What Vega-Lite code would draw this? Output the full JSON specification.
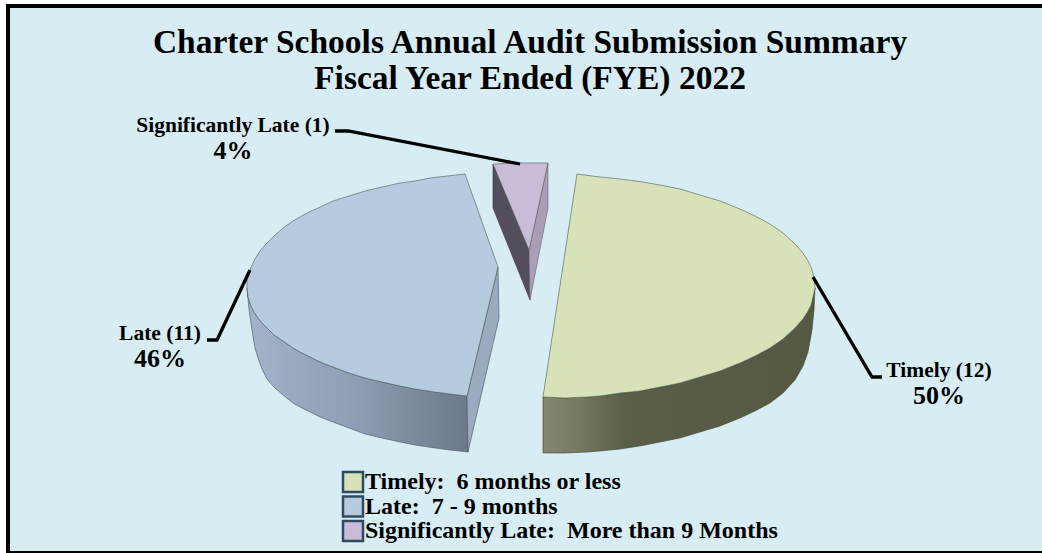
{
  "$schema": "https://vega.github.io/schema/vega-lite/v6.json",
  "width": 1042,
  "height": 553,
  "padding": 0,
  "autosize": "none",
  "background": "#ffffff",
  "config": {"view": {"stroke": null}},
  "title": {
    "text": ["Charter Schools Annual Audit Submission Summary", "Fiscal Year Ended (FYE) 2022"],
    "font": "Liberation Serif",
    "fontSize": 33.5,
    "fontWeight": "bold",
    "color": "#000000",
    "lineHeight": 36,
    "anchor": "start",
    "frame": "group",
    "align": "center",
    "dx": 530,
    "baseline": "alphabetic",
    "offset": -122
  },
  "datasets": {
    "frame": [{"x": 8, "y": 6, "x2": 1046, "y2": 553}],
    "summary": [
      {"part": "Timely", "count": 12, "percent": "50%", "caption": "Timely (12)", "x": 939, "y": 377, "yp": 404},
      {"part": "Late", "count": 11, "percent": "46%", "caption": "Late (11)", "x": 160, "y": 340, "yp": 367},
      {"part": "Significantly Late", "count": 1, "percent": "4%", "caption": "Significantly Late (1)", "x": 233, "y": 132, "yp": 159}
    ],
    "leaders": [
      {"part": "Timely", "i": 1, "x": 813, "y": 277}, {"part": "Timely", "i": 2, "x": 872, "y": 377}, {"part": "Timely", "i": 3, "x": 882, "y": 377},
      {"part": "Late", "i": 1, "x": 207, "y": 340}, {"part": "Late", "i": 2, "x": 217, "y": 340}, {"part": "Late", "i": 3, "x": 250, "y": 270},
      {"part": "Significantly Late", "i": 1, "x": 335, "y": 131}, {"part": "Significantly Late", "i": 2, "x": 348, "y": 131}, {"part": "Significantly Late", "i": 3, "x": 520, "y": 164}
    ],
    "wall_timely": [
      {"i":1,"x":543,"y":397},{"i":2,"x":565,"y":398},{"i":3,"x":587,"y":397},{"i":4,"x":600,"y":396},{"i":5,"x":620,"y":393},{"i":6,"x":640,"y":391},{"i":7,"x":660,"y":387},{"i":8,"x":680,"y":383},{"i":9,"x":700,"y":377},{"i":10,"x":720,"y":371},{"i":11,"x":740,"y":363},{"i":12,"x":755,"y":356},{"i":13,"x":770,"y":348},{"i":14,"x":783,"y":339},{"i":15,"x":795,"y":328},{"i":16,"x":803,"y":319},{"i":17,"x":808,"y":311},{"i":18,"x":811,"y":305},{"i":19,"x":813,"y":297},{"i":20,"x":815,"y":288},
      {"i":21,"x":814,"y":310},{"i":22,"x":812,"y":330},{"i":23,"x":808,"y":352},{"i":24,"x":803,"y":366},{"i":25,"x":795,"y":380},{"i":26,"x":783,"y":393},{"i":27,"x":770,"y":403},{"i":28,"x":755,"y":411},{"i":29,"x":740,"y":418},{"i":30,"x":720,"y":426},{"i":31,"x":700,"y":432},{"i":32,"x":680,"y":438},{"i":33,"x":660,"y":442},{"i":34,"x":640,"y":446},{"i":35,"x":620,"y":449},{"i":36,"x":600,"y":451},{"i":37,"x":587,"y":452},{"i":38,"x":565,"y":453},{"i":39,"x":543,"y":453},{"i":40,"x":543,"y":397}
    ],
    "wall_late": [
      {"i":1,"x":247,"y":288},{"i":2,"x":248,"y":297},{"i":3,"x":251,"y":306},{"i":4,"x":254,"y":312},{"i":5,"x":258,"y":318},{"i":6,"x":262,"y":323},{"i":7,"x":267,"y":328},{"i":8,"x":274,"y":335},{"i":9,"x":283,"y":341},{"i":10,"x":293,"y":348},{"i":11,"x":300,"y":352},{"i":12,"x":318,"y":361},{"i":13,"x":325,"y":364},{"i":14,"x":349,"y":373},{"i":15,"x":365,"y":378},{"i":16,"x":382,"y":382},{"i":17,"x":400,"y":386},{"i":18,"x":415,"y":389},{"i":19,"x":435,"y":392},{"i":20,"x":450,"y":394},{"i":21,"x":467,"y":396},
      {"i":22,"x":468,"y":452},{"i":23,"x":450,"y":450},{"i":24,"x":435,"y":448},{"i":25,"x":415,"y":445},{"i":26,"x":400,"y":442},{"i":27,"x":382,"y":438},{"i":28,"x":365,"y":434},{"i":29,"x":349,"y":428},{"i":30,"x":325,"y":419},{"i":31,"x":318,"y":416},{"i":32,"x":300,"y":407},{"i":33,"x":293,"y":403},{"i":34,"x":283,"y":395},{"i":35,"x":274,"y":387},{"i":36,"x":267,"y":379},{"i":37,"x":262,"y":369},{"i":38,"x":258,"y":358},{"i":39,"x":255,"y":348},{"i":40,"x":252,"y":330},{"i":41,"x":249,"y":310},{"i":42,"x":247,"y":288}
    ],
    "cut_late": [
      {"i": 1, "x": 467, "y": 396}, {"i": 2, "x": 498, "y": 267}, {"i": 3, "x": 499, "y": 318}, {"i": 4, "x": 468, "y": 452}, {"i": 5, "x": 467, "y": 396}
    ],
    "cut_sig_left": [
      {"i": 1, "x": 493, "y": 164}, {"i": 2, "x": 529, "y": 250}, {"i": 3, "x": 530, "y": 300}, {"i": 4, "x": 493, "y": 208}, {"i": 5, "x": 493, "y": 164}
    ],
    "cut_sig_right": [
      {"i": 1, "x": 548, "y": 163}, {"i": 2, "x": 548, "y": 208}, {"i": 3, "x": 530, "y": 300}, {"i": 4, "x": 529, "y": 250}, {"i": 5, "x": 548, "y": 163}
    ],
    "face_rows": [
      {"part":"Timely","i":1,"x":543,"y":397},{"part":"Timely","i":2,"x":577,"y":174},{"part":"Timely","i":3,"x":600,"y":177},{"part":"Timely","i":4,"x":620,"y":179},{"part":"Timely","i":5,"x":640,"y":181.5},{"part":"Timely","i":6,"x":660,"y":185},{"part":"Timely","i":7,"x":680,"y":189},{"part":"Timely","i":8,"x":700,"y":195},{"part":"Timely","i":9,"x":720,"y":201},{"part":"Timely","i":10,"x":740,"y":209},{"part":"Timely","i":11,"x":755,"y":216},{"part":"Timely","i":12,"x":770,"y":224},{"part":"Timely","i":13,"x":783,"y":233},{"part":"Timely","i":14,"x":795,"y":244},{"part":"Timely","i":15,"x":803,"y":253},{"part":"Timely","i":16,"x":808,"y":261},{"part":"Timely","i":17,"x":811,"y":267},{"part":"Timely","i":18,"x":814,"y":277},{"part":"Timely","i":19,"x":815,"y":288},
      {"part":"Timely","i":20,"x":813,"y":297},{"part":"Timely","i":21,"x":811,"y":305},{"part":"Timely","i":22,"x":808,"y":311},{"part":"Timely","i":23,"x":803,"y":319},{"part":"Timely","i":24,"x":795,"y":328},{"part":"Timely","i":25,"x":783,"y":339},{"part":"Timely","i":26,"x":770,"y":348},{"part":"Timely","i":27,"x":755,"y":356},{"part":"Timely","i":28,"x":740,"y":363},{"part":"Timely","i":29,"x":720,"y":371},{"part":"Timely","i":30,"x":700,"y":377},{"part":"Timely","i":31,"x":680,"y":383},{"part":"Timely","i":32,"x":660,"y":387},{"part":"Timely","i":33,"x":640,"y":391},{"part":"Timely","i":34,"x":620,"y":393},{"part":"Timely","i":35,"x":600,"y":396},{"part":"Timely","i":36,"x":587,"y":397},{"part":"Timely","i":37,"x":565,"y":398},{"part":"Timely","i":38,"x":543,"y":397},

      {"part":"Late","i":1,"x":465,"y":174},{"part":"Late","i":2,"x":447,"y":176},{"part":"Late","i":3,"x":430,"y":178},{"part":"Late","i":4,"x":415,"y":181},{"part":"Late","i":5,"x":400,"y":183},{"part":"Late","i":6,"x":382,"y":187},{"part":"Late","i":7,"x":365,"y":191},{"part":"Late","i":8,"x":349,"y":196},{"part":"Late","i":9,"x":333,"y":201},{"part":"Late","i":10,"x":318,"y":208},{"part":"Late","i":11,"x":305,"y":214},{"part":"Late","i":12,"x":293,"y":221},{"part":"Late","i":13,"x":283,"y":228},{"part":"Late","i":14,"x":274,"y":236},{"part":"Late","i":15,"x":265,"y":245},{"part":"Late","i":16,"x":260,"y":251},{"part":"Late","i":17,"x":255,"y":259},{"part":"Late","i":18,"x":252,"y":265},{"part":"Late","i":19,"x":249,"y":272},{"part":"Late","i":20,"x":247,"y":280},{"part":"Late","i":21,"x":247,"y":288},
      {"part":"Late","i":22,"x":248,"y":297},{"part":"Late","i":23,"x":251,"y":306},{"part":"Late","i":24,"x":254,"y":312},{"part":"Late","i":25,"x":258,"y":318},{"part":"Late","i":26,"x":262,"y":323},{"part":"Late","i":27,"x":267,"y":328},{"part":"Late","i":28,"x":274,"y":335},{"part":"Late","i":29,"x":283,"y":341},{"part":"Late","i":30,"x":293,"y":348},{"part":"Late","i":31,"x":300,"y":352},{"part":"Late","i":32,"x":318,"y":361},{"part":"Late","i":33,"x":325,"y":364},{"part":"Late","i":34,"x":349,"y":373},{"part":"Late","i":35,"x":365,"y":378},{"part":"Late","i":36,"x":382,"y":382},{"part":"Late","i":37,"x":400,"y":386},{"part":"Late","i":38,"x":415,"y":389},{"part":"Late","i":39,"x":435,"y":392},{"part":"Late","i":40,"x":450,"y":394},{"part":"Late","i":41,"x":467,"y":396},{"part":"Late","i":42,"x":498,"y":267},{"part":"Late","i":43,"x":465,"y":174},

      {"part":"Significantly Late","i":1,"x":493,"y":164},{"part":"Significantly Late","i":2,"x":520,"y":163},{"part":"Significantly Late","i":3,"x":548,"y":163},{"part":"Significantly Late","i":4,"x":529,"y":250},{"part":"Significantly Late","i":5,"x":493,"y":164}
    ]
  },
  "encoding": {
    "x": {"field": "x", "type": "quantitative", "axis": null, "scale": {"domain": [0, 1042], "zero": false, "nice": false}},
    "y": {"field": "y", "type": "quantitative", "axis": null, "scale": {"domain": [553, 0], "zero": false, "nice": false}}
  },
  "layer": [
    {
      "data": {"name": "frame"},
      "mark": {"type": "rect", "fill": "#d8ecf4", "stroke": "#000000", "strokeWidth": 4, "clip": false},
      "encoding": {"x2": {"field": "x2"}, "y2": {"field": "y2"}}
    },
    {
      "data": {"name": "wall_timely"},
      "mark": {"type": "line", "stroke": "#3f4230", "strokeWidth": 0.6,
        "fill": {"gradient": "linear", "x1": 0, "y1": 0, "x2": 1, "y2": 0, "stops": [
          {"offset": 0, "color": "#858870"}, {"offset": 0.12, "color": "#787b60"}, {"offset": 0.3, "color": "#5b5e47"}, {"offset": 1, "color": "#565942"}]}},
      "encoding": {"order": {"field": "i", "type": "quantitative"}}
    },
    {
      "data": {"name": "wall_late"},
      "mark": {"type": "line", "stroke": "#46535f", "strokeWidth": 0.6,
        "fill": {"gradient": "linear", "x1": 0, "y1": 0, "x2": 1, "y2": 0, "stops": [
          {"offset": 0, "color": "#a3b4ca"}, {"offset": 0.5, "color": "#8d9eb4"}, {"offset": 1, "color": "#6b7989"}]}},
      "encoding": {"order": {"field": "i", "type": "quantitative"}}
    },
    {
      "data": {"name": "cut_late"},
      "mark": {"type": "line", "fill": "#9aabbf", "stroke": "#46535f", "strokeWidth": 0.6},
      "encoding": {"order": {"field": "i", "type": "quantitative"}}
    },
    {
      "data": {"name": "cut_sig_left"},
      "mark": {"type": "line", "fill": "#544e5c", "stroke": "#3a3640", "strokeWidth": 0.6},
      "encoding": {"order": {"field": "i", "type": "quantitative"}}
    },
    {
      "data": {"name": "cut_sig_right"},
      "mark": {"type": "line", "fill": "#a99eb6", "stroke": "#6a6272", "strokeWidth": 0.6},
      "encoding": {"order": {"field": "i", "type": "quantitative"}}
    },
    {
      "data": {"name": "face_rows"},
      "mark": {"type": "line", "stroke": "#4d5a55", "strokeWidth": 0.6},
      "encoding": {
        "order": {"field": "i", "type": "quantitative"},
        "fill": {
          "field": "part",
          "type": "nominal",
          "scale": {
            "domain": ["Timely", "Late", "Significantly Late"],
            "range": ["#d7e2b9", "#b6cbe0", "#c9bcd8"]
          },
          "legend": {
            "orient": "none",
            "legendX": 341,
            "legendY": 470,
            "title": null,
            "symbolType": "square",
            "symbolSize": 400,
            "symbolStrokeWidth": 2.5,
            "symbolStrokeColor": "#2f4a5c",
            "labelFont": "Liberation Serif",
            "labelFontSize": 24,
            "labelFontWeight": "bold",
            "labelColor": "#000000",
            "labelLimit": 600,
            "labelOffset": 0,
            "rowPadding": 0.5,
            "clipHeight": 24,
            "labelExpr": "datum.label === 'Timely' ? 'Timely:\u00a0 6 months or less' : datum.label === 'Late' ? 'Late:\u00a0 7 - 9 months' : 'Significantly Late:\u00a0 More than 9 Months'"
          }
        }
      }
    },
    {
      "data": {"name": "leaders"},
      "mark": {"type": "line", "stroke": "#000000", "strokeWidth": 3.3, "strokeCap": "butt"},
      "encoding": {"detail": {"field": "part"}, "order": {"field": "i", "type": "quantitative"}}
    },
    {
      "data": {"name": "summary"},
      "mark": {"type": "text", "font": "Liberation Serif", "fontWeight": "bold", "fontSize": 21.5, "align": "center", "baseline": "alphabetic", "color": "#000000"},
      "encoding": {"text": {"field": "caption"}}
    },
    {
      "data": {"name": "summary"},
      "mark": {"type": "text", "font": "Liberation Serif", "fontWeight": "bold", "fontSize": 26, "align": "center", "baseline": "alphabetic", "color": "#000000"},
      "encoding": {"y": {"field": "yp", "type": "quantitative"}, "text": {"field": "percent"}}
    }
  ]
}
